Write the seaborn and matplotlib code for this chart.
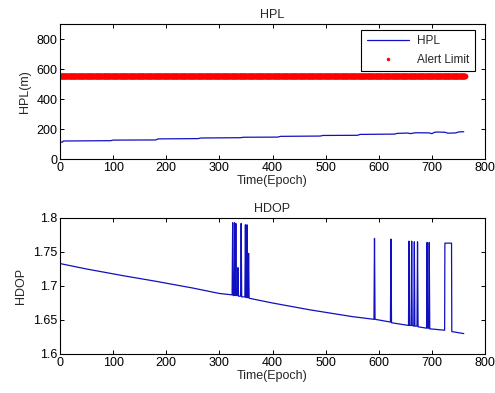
import numpy as np
import pandas as pd
import matplotlib
matplotlib.use("Agg")
import matplotlib.pyplot as plt
import seaborn as sns

# HPL (m) key points
hpl_epoch = [0, 5, 6, 95, 100, 180, 185, 260, 265, 340, 345, 410, 415, 490, 495, 560, 565,
             630, 635, 655, 660, 665, 670, 695, 700, 705, 710, 725, 730, 745, 750, 760]
hpl_value = [112, 113, 120, 122, 126, 127, 134, 136, 140, 142, 145, 146, 151, 153, 157, 158, 164,
             166, 171, 173, 169, 173, 175, 174, 169, 178, 180, 178, 172, 174, 180, 182]

# Alert limit (m)
ALERT_LIMIT = 556
alert_last_epoch = 762

# HDOP key points (baseline with spikes)
hdop_epoch = [0, 50, 120, 180, 250, 300, 324, 325, 326, 328, 328.5, 330, 331, 332, 334, 335, 336,
              340, 341, 342, 348, 349, 350, 351, 352, 353, 354, 355, 356, 400, 470, 550, 591, 592,
              593, 622, 623, 624, 656, 657, 658, 661, 662, 663, 666, 667, 668, 672, 673, 674, 690,
              691, 692, 694, 695, 696, 724, 724.5, 737, 737.5, 760]
hdop_value = [1.733, 1.725, 1.715, 1.707, 1.697, 1.689, 1.687, 1.793, 1.686, 1.686, 1.793, 1.686,
              1.792, 1.686, 1.686, 1.727, 1.685, 1.685, 1.792, 1.684, 1.684, 1.790, 1.683, 1.683,
              1.790, 1.683, 1.683, 1.748, 1.682, 1.675, 1.665, 1.655, 1.651, 1.770, 1.651, 1.647,
              1.769, 1.646, 1.642, 1.766, 1.642, 1.642, 1.766, 1.642, 1.641, 1.765, 1.641, 1.641,
              1.765, 1.640, 1.638, 1.764, 1.638, 1.638, 1.764, 1.637, 1.635, 1.763, 1.763, 1.633,
              1.630]

sns.set_theme(style="ticks")
plt.rcParams['font.family'] = ['Liberation Sans', 'DejaVu Sans']

fig = plt.figure(figsize=(4.95, 3.93), dpi=100)
ax1 = fig.add_axes([60/495, 1-159/393, 425/495, 135/393])
ax2 = fig.add_axes([60/495, 1-354/393, 425/495, 136/393])

blue = "#1010c0"
hpl_df = pd.DataFrame({"epoch": hpl_epoch, "hpl": hpl_value})
alert_epochs = np.arange(0, alert_last_epoch + 1)
alert_df = pd.DataFrame({"epoch": alert_epochs, "al": np.full(len(alert_epochs), ALERT_LIMIT)})

sns.lineplot(data=hpl_df, x="epoch", y="hpl", ax=ax1, color=blue, lw=0.9, label="HPL")
ax1.plot(alert_df["epoch"], alert_df["al"], linestyle="none", marker="o", markersize=4.2,
         color="#ff0000", markeredgewidth=0, label="Alert Limit")
ax1.set_xlim(0, 800)
ax1.set_ylim(0, 900)
ax1.set_yticks([0, 200, 400, 600, 800])
ax1.set_xticks(range(0, 801, 100))
ax1.set_title("HPL", fontsize=9, pad=4)
ax1.set_xlabel("Time(Epoch)", fontsize=9, labelpad=1)
ax1.set_ylabel("HPL(m)", fontsize=9, labelpad=4)
leg = ax1.legend(loc="upper right", bbox_to_anchor=(475/495, 1-30/393),
                 bbox_transform=fig.transFigure, fontsize=8.5, frameon=True, fancybox=False,
                 edgecolor="black", framealpha=1, borderaxespad=0, handlelength=3.6,
                 markerscale=0.6, labelspacing=0.55, borderpad=0.45, handletextpad=0.7)
leg.get_frame().set_linewidth(0.8)

hdop_df = pd.DataFrame({"epoch": hdop_epoch, "hdop": hdop_value})
sns.lineplot(data=hdop_df, x="epoch", y="hdop", ax=ax2, color=blue, lw=0.9, sort=False)
ax2.set_xlim(0, 800)
ax2.set_ylim(1.6, 1.8)
ax2.set_yticks([1.6, 1.65, 1.7, 1.75, 1.8])
ax2.set_yticklabels(["1.6", "1.65", "1.7", "1.75", "1.8"])
ax2.set_xticks(range(0, 801, 100))
ax2.set_title("HDOP", fontsize=9, pad=4)
ax2.set_xlabel("Time(Epoch)", fontsize=9, labelpad=1)
ax2.set_ylabel("HDOP", fontsize=9, labelpad=4)

for ax in (ax1, ax2):
    for s in ax.spines.values():
        s.set_visible(True)
        s.set_linewidth(0.8)
        s.set_color("black")
    ax.tick_params(direction="in", length=3, width=0.7, top=True, right=True,
                   labelsize=9, pad=2, colors="black")

fig.savefig("out.png", dpi=100)
